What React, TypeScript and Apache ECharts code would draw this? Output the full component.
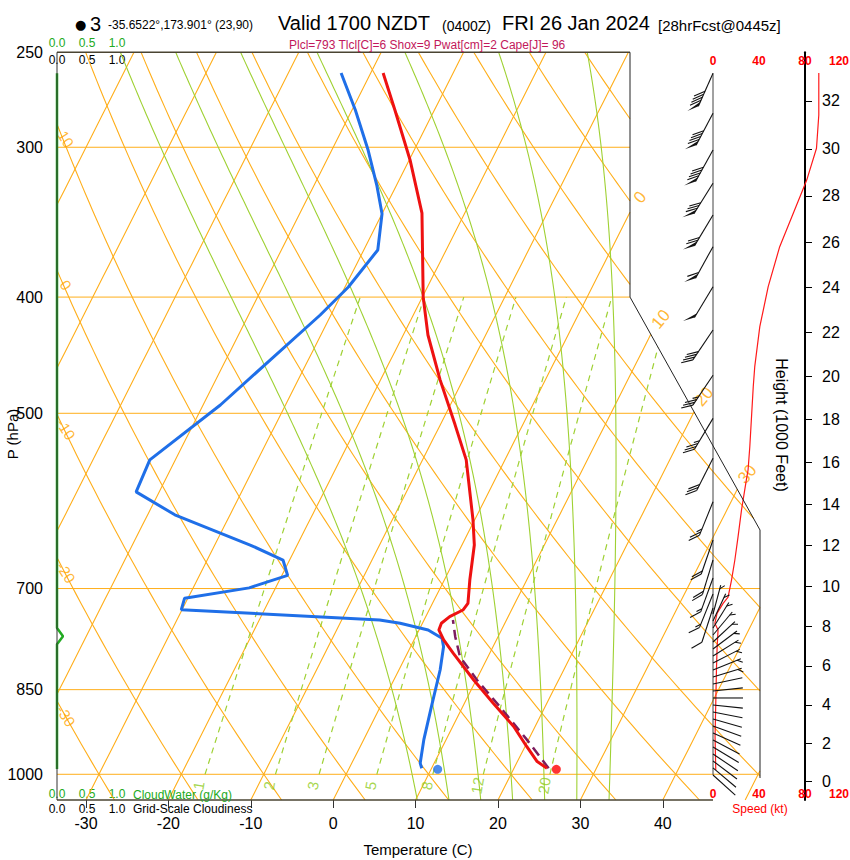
import React, { useEffect, useRef } from "react";
import * as echarts from "echarts";

// ---------------- DATA ----------------
// Temperature profile
const tempP = [260.1, 279.3, 307.4, 340.4, 400, 430.2, 468.7, 511.2, 546.8, 613.6, 643.9, 688.7, 720.2, 729.5, 738.8, 748.3, 757.9, 772.7, 792.9, 834.4, 872.6, 912.3, 948, 975.9, 988.5];
const tempC = [-38.5, -34.8, -29.9, -25.2, -19.9, -17.0, -12.8, -8.2, -4.7, -0.2, 1.5, 3.1, 4.3, 4.1, 2.9, 2.3, 2.4, 3.6, 5.6, 9.7, 13.5, 17.4, 20.2, 22.4, 24.0];
// Dew point profile
const dewP = [260.1, 279.3, 301.6, 322.6, 340.9, 365.4, 392.3, 414, 451.2, 492.1, 546.8, 581.4, 607.6, 643.9, 662.7, 682.5, 699.1, 713.1, 729, 743.6, 748.3, 757.9, 770.2, 782.8, 818.1, 878.2, 935.6, 978.9, 988.5];
const dewC = [-43.6, -39.6, -35.6, -32.4, -30.0, -28.3, -29.6, -31.3, -34.6, -37.9, -43.1, -42.8, -36.7, -25.7, -20.8, -19.3, -23.2, -30.4, -30.1, -5.4, -2.7, 1.1, 3.3, 4.0, 5.0, 6.2, 7.3, 8.3, 8.8];
// Lifted parcel
const parcelP = [988.5, 935.6, 878.2, 834.4, 797.9, 767.8, 743.6];
const parcelC = [24.2, 19.8, 14.5, 10.1, 6.6, 4.8, 3.5];
// Surface values
const sfcP = 990.5;
const sfcT = 25.2;
const sfcTd = 10.8;
// Wind speed profile (kt)
const speedP = [260.1, 282.0, 300.6, 319.5, 325.6, 363.1, 392.1, 423.4, 457.2, 475.1, 533.1, 557.5, 568.2, 601.8, 633.6, 662.7, 688.7, 711.7, 720.2, 733.9, 748.3, 757.9, 782.8, 818.1, 872.6, 930.3, 991.8];
const speedKt = [92, 92, 90, 81.5, 78, 58, 48, 40.7, 36.3, 35, 32, 30.5, 29, 24.8, 21.8, 19, 16.1, 13.1, 8.8, 3.6, 1.6, 4.4, 3.6, 3.0, 2.4, 1.8, 2.4];
// Wind barbs: pressure (hPa), direction (deg), speed (kt)
const barbP = [260.3, 281.1, 301.6, 321.5, 341.7, 363.1, 392.1, 426.1, 464.8, 504.9, 545.2, 592.6, 637.7, 662.7, 686.0, 707.4, 726.7,
  735.1, 745.0, 755.1, 765.3, 775.7, 786.2, 796.8, 807.6, 818.5, 829.6, 840.8, 852.2, 863.7, 875.4, 887.2, 899.2, 911.4, 923.7, 936.2, 948.9, 961.7, 974.7, 987.9, 1001.3];
const barbDir = [204, 208, 209, 212, 211, 209, 211, 214, 214, 211, 207, 202, 199, 197, 200, 202, 198,
  15, 25, 32, 40, 47, 53, 58, 63, 68, 73, 78, 84, 90, 96, 101, 106, 110, 114, 118, 121, 124, 127, 130, 132];
const barbKt = [90, 90, 90, 80, 70, 60, 50, 40, 35, 35, 30, 25, 20, 20, 15, 15, 10,
  5, 5, 3, 3, 3, 3, 3, 3, 3, 3, 2, 2, 2, 2, 2, 2, 2, 2, 2, 2, 2, 2, 2, 2];
// Cloud water (g/kg)
const cloudP = [260.3, 755, 767, 779, 990];
const cloudW = [0, 0, 0.1, 0, 0];

// Axis ticks / background line sets
const tempTicks = [-30, -20, -10, 0, 10, 20, 30, 40];
const pressureTicks = [250, 300, 400, 500, 700, 850, 1000];
const isobarLevels = [300, 400, 500, 700, 850, 1000];
const heightTicks = [0, 2, 4, 6, 8, 10, 12, 14, 16, 18, 20, 22, 24, 26, 28, 30, 32];
const speedTicks = [0, 40, 80];
const speedEdgeTick = 120;
const cloudTicks = [0, 0.5, 1];
const isothermValues = [-80, -70, -60, -50, -40, -30, -20, -10, 0, 10, 20, 30, 40, 50];
const dryAdiabatValues = [-30, -20, -10, 0, 10, 20, 30, 40, 50, 60, 70, 80, 90, 100, 110, 120, 130];
const moistAdiabatValues = [8, 12, 16, 20, 24, 28, 32];
const mixingRatioValues = [1, 2, 3, 5, 8, 12, 20];
const dryLabelValues = [10, 0, -10, -20, -30];
const isoLabelValues = [0, 10, 20, 30];

// ---------------- LAYOUT ----------------
const FONT = '"Liberation Sans", Arial, Helvetica, sans-serif';
const GL = 57, GR = 760, GT = 52.3, GB = 800;
const SPEED_LEFT = 713, SPEED_W = 137, PX_PER_KT = 1.15;
const FRAME_X_TOP = 630, DIAG_END_Y = 530;
const P_TOP = 250, P_BOT = 1050.6;
const LN_TOP = Math.log(P_TOP), LN_BOT = Math.log(P_BOT);
const T0_PIX = 333.2, PX_PER_C = 8.24;
const XMIN = (GL - T0_PIX) / PX_PER_C, XMAX = (GR - T0_PIX) / PX_PER_C;
const PX_PER_LN = (GB - GT) / (LN_BOT - LN_TOP);
const SKEW = (0.505 * PX_PER_LN) / PX_PER_C;
const pixToLn = (y: number) => LN_TOP + (y - GT) / PX_PER_LN;
const X_FRAME = (FRAME_X_TOP - T0_PIX) / PX_PER_C;
const LN_DIAG0 = Math.log(400);
const LN_DIAG1 = pixToLn(DIAG_END_Y);

const ORANGE = "#ffae1a";
const LGREEN = "#9fd133";

// ---------------- thermodynamics ----------------
const RD = 287.04, CPD = 1005.7, LV = 2.501e6, EPS = 0.622;
const toX = (tc: number, lp: number) => tc + SKEW * (LN_BOT - lp);
const esat = (tc: number) => 6.112 * Math.exp((17.67 * tc) / (tc + 243.5));
const rsat = (tk: number, p: number) => { const e = esat(tk - 273.15); return (EPS * e) / (p - e); };
const dryT = (th: number, lp: number) => (th + 273.15) * Math.pow(Math.exp(lp) / 1000, 0.2857) - 273.15;
const mixTd = (w: number, p: number) => {
  const r = w / 1000; const e = (p * r) / (EPS + r); const L = Math.log(e / 6.112);
  return (243.5 * L) / (17.67 - L);
};
const rightLimit = (lp: number) => {
  if (lp <= LN_DIAG0) return X_FRAME;
  if (lp >= LN_DIAG1) return XMAX;
  return X_FRAME + ((lp - LN_DIAG0) / (LN_DIAG1 - LN_DIAG0)) * (XMAX - X_FRAME);
};
const insideG = (pt: number[]) => Math.min(pt[0] - XMIN, rightLimit(pt[1]) - pt[0]);
function clip(pts: number[][]): number[][][] {
  const out: number[][][] = [];
  let cur: number[][] = [];
  for (let i = 0; i < pts.length; i++) {
    const g = insideG(pts[i]);
    if (i > 0) {
      const A = pts[i - 1], B = pts[i];
      const gp = insideG(A);
      if ((gp >= 0) !== (g >= 0)) {
        let a = 0, b = 1;
        for (let k = 0; k < 40; k++) {
          const m = (a + b) / 2;
          const pm = [A[0] + (B[0] - A[0]) * m, A[1] + (B[1] - A[1]) * m];
          if ((insideG(pm) >= 0) === (gp >= 0)) a = m; else b = m;
        }
        const t = (a + b) / 2;
        cur.push([A[0] + (B[0] - A[0]) * t, A[1] + (B[1] - A[1]) * t]);
        if (g < 0) { if (cur.length > 1) out.push(cur); cur = []; }
      }
    }
    if (g >= 0) cur.push(pts[i]);
  }
  if (cur.length > 1) out.push(cur);
  return out;
}
const sampleLn = (lp0: number, lp1: number, n: number) => {
  const a: number[] = [];
  for (let i = 0; i <= n; i++) a.push(lp0 + ((lp1 - lp0) * i) / n);
  return a;
};
function moistLine(thw: number): number[][] {
  const f = (T: number, lp: number) => {
    const p = Math.exp(lp); const r = rsat(T, p);
    return (RD * T + LV * r) / (CPD + (LV * LV * r * EPS) / (RD * T * T));
  };
  const integ = (lp0: number, T0: number, lp1: number, n: number) => {
    const h = (lp1 - lp0) / n; const out = [[lp0, T0]]; let T = T0, lp = lp0;
    for (let i = 0; i < n; i++) {
      const k1 = f(T, lp), k2 = f(T + (h * k1) / 2, lp + h / 2), k3 = f(T + (h * k2) / 2, lp + h / 2), k4 = f(T + h * k3, lp + h);
      T += (h * (k1 + 2 * k2 + 2 * k3 + k4)) / 6; lp += h; out.push([lp, T]);
    }
    return out;
  };
  const up = integ(Math.log(1000), thw + 273.15, LN_TOP, 140);
  const down = integ(Math.log(1000), thw + 273.15, LN_BOT, 6).reverse();
  return [...down, ...up.slice(1)].map(([lp, T]) => [toX(T - 273.15, lp), lp]);
}
function bisect(fn: (x: number) => number, a: number, b: number) {
  let fa = fn(a);
  for (let i = 0; i < 60; i++) {
    const m = (a + b) / 2; const fm = fn(m);
    if ((fm >= 0) === (fa >= 0)) { a = m; fa = fm; } else b = m;
  }
  return (a + b) / 2;
}
const heightToLnP = (kft: number) => Math.log(1013.25 * Math.pow(1 - (kft * 304.8) / 44330.8, 5.25588));
const lnPToKft = (lp: number) => (44330.8 * (1 - Math.pow(Math.exp(lp) / 1013.25, 0.190263))) / 304.8;

function buildOption(): any {
  const isoLines = isothermValues.flatMap((t) => clip(sampleLn(LN_BOT, LN_TOP, 60).map((lp) => [toX(t, lp), lp])));
  const dryLines = dryAdiabatValues.flatMap((th) => clip(sampleLn(LN_BOT, LN_TOP, 80).map((lp) => [toX(dryT(th, lp), lp), lp])));
  const moistLines = moistAdiabatValues.flatMap((tw) => clip(moistLine(tw)));
  const mixLines = mixingRatioValues.flatMap((w) => clip(sampleLn(Math.log(1000), Math.log(400), 60).map((lp) => [toX(mixTd(w, Math.exp(lp)), lp), lp])));
  const isobarLines = isobarLevels.map((p) => { const lp = Math.log(p); return [[XMIN, lp], [rightLimit(lp), lp]]; });

  const offs = (pt: number[], dx: number, dy: number) => [pt[0] + dx / PX_PER_C, pt[1] + dy / PX_PER_LN];
  const isoLab = isoLabelValues.map((t) => {
    const lp = bisect((l) => toX(t, l) - rightLimit(l), LN_TOP, LN_BOT);
    return { name: String(t), value: offs([toX(t, lp), lp], 10, -15) };
  });
  const dryLab = dryLabelValues.map((th) => {
    const lp = bisect((l) => toX(dryT(th, l), l) - XMIN, LN_TOP, LN_BOT);
    return { name: String(th), value: offs([XMIN, lp], 9, 15) };
  });
  const mixLab = mixingRatioValues.map((w) => {
    const lp = Math.log(1022);
    return { name: String(w), value: offs([toX(mixTd(w, 1022), lp), lp], -3, 0) };
  });

  const bgLines = (data: number[][][], color: string, width: number, type: any, z: number) => ({
    type: "lines", coordinateSystem: "cartesian2d", xAxisIndex: 0, yAxisIndex: 0, polyline: true, silent: true, z,
    data: data.map((c) => ({ coords: c })),
    lineStyle: { color, width, type, opacity: 1 },
  });
  const labelSeries = (data: any[], color: string, size: number, rotate: number) => ({
    type: "scatter", xAxisIndex: 0, yAxisIndex: 0, symbol: "circle", symbolSize: 1, silent: true, z: 3,
    itemStyle: { color: "transparent" },
    data,
    label: { show: true, position: "inside", formatter: "{b}", color, fontSize: size, fontFamily: FONT, rotate },
  });
  const profile = (ps: number[], ts: number[]) => ps.map((p, i) => [toX(ts[i], Math.log(p)), Math.log(p)]);

  const hideAxis = { axisLine: { show: false, onZero: false }, axisTick: { show: false }, splitLine: { show: false } };
  const yHidden = (g: number) => ({ gridIndex: g, type: "value", min: LN_TOP, max: LN_BOT, inverse: true, show: false, ...hideAxis });
  const cloudAxis = (g: number, pos: string, inside: boolean, color: string, margin: number) => ({
    gridIndex: g, type: "value", min: 0, max: 1, position: pos, ...hideAxis,
    axisLabel: { show: true, inside, customValues: cloudTicks, formatter: (v: number) => v.toFixed(1), color, fontSize: 12, fontFamily: FONT, margin },
  });
  const speedAxis = (pos: string, margin: number) => ({
    gridIndex: 1, type: "value", min: 0, max: SPEED_W / PX_PER_KT, position: pos, ...hideAxis,
    axisLabel: { show: true, inside: true, customValues: speedTicks, color: "#ff0000", fontWeight: "bold", fontSize: 12, fontFamily: FONT, margin },
  });

  const txt = (x: number, y: number, text: string, size: number, extra: any = {}, rotation = 0) => ({
    type: "text", x, y, rotation, z: 20,
    style: { text, fontSize: size, fontFamily: FONT, fill: "#000", align: "left", verticalAlign: "middle", ...extra },
  });
  const frameColor = "#4a4432";

  return {
    animation: false,
    backgroundColor: "#ffffff",
    textStyle: { fontFamily: FONT },
    grid: [
      { left: GL, top: GT, width: GR - GL, height: GB - GT },
      { left: SPEED_LEFT, top: GT, width: SPEED_W, height: GB - GT },
      { left: GL, top: GT, width: 60, height: GB - GT },
      { left: GL, top: GT, width: 60, height: GB - GT },
    ],
    xAxis: [
      {
        gridIndex: 0, type: "value", min: XMIN, max: XMAX, position: "bottom",
        axisLine: { show: false, onZero: false }, splitLine: { show: false },
        axisTick: { show: true, customValues: tempTicks, length: 8, lineStyle: { color: "#333", width: 1 } },
        axisLabel: { show: true, customValues: tempTicks, formatter: (v: number) => String(Math.round(v)), fontSize: 16, color: "#000", fontFamily: FONT, margin: 15 },
      },
      speedAxis("top", 3),
      speedAxis("bottom", 0),
      cloudAxis(2, "top", false, "#22aa22", 3),
      cloudAxis(2, "bottom", true, "#22aa22", 0),
      cloudAxis(3, "top", true, "#000", 2),
      cloudAxis(3, "bottom", false, "#000", 3),
    ],
    yAxis: [
      {
        gridIndex: 0, type: "value", min: LN_TOP, max: LN_BOT, inverse: true, position: "left", ...hideAxis,
        axisLabel: { show: true, customValues: pressureTicks.map(Math.log), formatter: (v: number) => String(Math.round(Math.exp(v))), fontSize: 16, color: "#000", fontFamily: FONT, margin: 14 },
      },
      {
        gridIndex: 0, type: "value", min: LN_TOP, max: LN_BOT, inverse: true, position: "right", offset: 45,
        axisLine: { show: true, onZero: false, lineStyle: { color: "#000", width: 2 } },
        axisTick: { show: true, inside: false, customValues: heightTicks.map(heightToLnP), length: 7, lineStyle: { color: "#000", width: 1 } },
        axisLabel: { show: true, customValues: heightTicks.map(heightToLnP), formatter: (v: number) => String(Math.round(lnPToKft(v))), fontSize: 16, color: "#000", fontFamily: FONT, margin: 17 },
        splitLine: { show: false },
      },
      yHidden(1),
      yHidden(2),
      yHidden(3),
    ],
    series: [
      bgLines(isobarLines, ORANGE, 1, "solid", 1),
      bgLines(isoLines, ORANGE, 1.1, "solid", 1),
      bgLines(dryLines, ORANGE, 1.1, "solid", 1),
      bgLines(moistLines, LGREEN, 1.1, "solid", 1),
      bgLines(mixLines, LGREEN, 1.2, [6, 5], 1),
      labelSeries(isoLab, "#ffa500", 17, 50),
      labelSeries(dryLab, "#ffa500", 15, -58),
      labelSeries(mixLab, "#8fcc22", 15, 80),
      {
        type: "line", xAxisIndex: 0, yAxisIndex: 0, data: profile(parcelP, parcelC), symbol: "none", silent: true, z: 5,
        lineStyle: { color: "#7b1c5e", width: 2.5, type: [10, 6] },
      },
      {
        type: "line", xAxisIndex: 0, yAxisIndex: 0, data: profile(dewP, dewC), symbol: "none", silent: true, z: 6,
        lineStyle: { color: "#1f6fe8", width: 3 },
      },
      {
        type: "line", xAxisIndex: 0, yAxisIndex: 0, data: profile(tempP, tempC), symbol: "none", silent: true, z: 6,
        lineStyle: { color: "#ee1111", width: 3 },
      },
      {
        type: "scatter", xAxisIndex: 0, yAxisIndex: 0, symbolSize: 9, silent: true, z: 7,
        data: [
          { value: [toX(sfcT, Math.log(sfcP)), Math.log(sfcP)], itemStyle: { color: "#ff0000" } },
          { value: [toX(sfcTd, Math.log(sfcP)), Math.log(sfcP)], itemStyle: { color: "#1f6fe8" } },
        ],
      },
      {
        type: "line", xAxisIndex: 3, yAxisIndex: 3, data: cloudP.map((p, i) => [cloudW[i], Math.log(p)]), symbol: "none", silent: true, z: 8,
        lineStyle: { color: "#22aa22", width: 2.5 },
      },
      {
        type: "line", xAxisIndex: 1, yAxisIndex: 2,
        data: [[0, Math.log(barbP[0])], [0, Math.log(barbP[barbP.length - 1])]],
        symbol: "none", silent: true, z: 6, lineStyle: { color: "#444", width: 1 },
      },
      {
        type: "line", xAxisIndex: 1, yAxisIndex: 2, data: speedP.map((p, i) => [speedKt[i], Math.log(p)]), symbol: "none", silent: true, z: 7,
        lineStyle: { color: "#ff1a1a", width: 1.2 },
      },
      {
        type: "custom", coordinateSystem: "cartesian2d", xAxisIndex: 1, yAxisIndex: 2, silent: true, z: 9, clip: false,
        dimensions: ["x", "y", "dir", "spd"],
        encode: { x: 0, y: 1 },
        data: barbP.map((p, i) => [0, Math.log(p), barbDir[i], barbKt[i]]),
        renderItem: (params: any, api: any) => {
          const pt = api.coord([api.value(0), api.value(1)]);
          const dir = (api.value(2) * Math.PI) / 180;
          const spd = api.value(3);
          const L = spd >= 10 ? 36 : 30;
          const ux = Math.sin(dir), uy = -Math.cos(dir);
          const px = -uy, py = ux;
          const ang = (42 * Math.PI) / 180;
          const fx = ux * Math.cos(ang) + px * Math.sin(ang);
          const fy = uy * Math.cos(ang) + py * Math.sin(ang);
          const FL = 12;
          const at = (d: number) => [pt[0] + ux * d, pt[1] + uy * d];
          const children: any[] = [];
          const ln = (a: number[], b: number[]) => ({ type: "line", shape: { x1: a[0], y1: a[1], x2: b[0], y2: b[1] }, style: { stroke: "#111", lineWidth: 1.1 } });
          children.push(ln(pt, at(L)));
          let s = Math.round(spd / 5) * 5;
          const pen = Math.floor(s / 50); s -= pen * 50;
          const full = Math.floor(s / 10); s -= full * 10;
          const half = s >= 5;
          let d = L;
          for (let k = 0; k < pen; k++) {
            const a = at(d), b = at(d - 5);
            children.push({ type: "polygon", shape: { points: [a, [a[0] + fx * FL, a[1] + fy * FL], b] }, style: { fill: "#111" } });
            d -= 6.5;
          }
          for (let k = 0; k < full; k++) {
            const a = at(d);
            children.push(ln(a, [a[0] + fx * FL, a[1] + fy * FL]));
            d -= 3.3;
          }
          if (half) {
            if (pen + full === 0) d = L - 4;
            const a = at(d);
            children.push(ln(a, [a[0] + (fx * FL) / 2, a[1] + (fy * FL) / 2]));
          }
          return { type: "group", children };
        },
      },
    ],
    graphic: {
      elements: [
        { type: "polyline", z: 15, shape: { points: [[GL, GT], [FRAME_X_TOP, GT]] }, style: { stroke: frameColor, lineWidth: 1.5, fill: null } },
        { type: "polyline", z: 15, shape: { points: [[GL, GB], [SPEED_LEFT, GB]] }, style: { stroke: frameColor, lineWidth: 1.5, fill: null } },
        { type: "polyline", z: 15, shape: { points: [[GL, GT], [GL, GB]] }, style: { stroke: "#333", lineWidth: 1, fill: null } },
        { type: "polyline", z: 15, shape: { points: [[FRAME_X_TOP, GT], [FRAME_X_TOP, GT + (LN_DIAG0 - LN_TOP) * PX_PER_LN], [GR, DIAG_END_Y], [GR, 778]] }, style: { stroke: "#222", lineWidth: 1, fill: null } },
        txt(75, 24, "●", 13, { fontFamily: '"DejaVu Sans", sans-serif' }),
        txt(90, 23.5, "3", 20),
        txt(108, 24.5, "-35.6522°,173.901° (23,90)", 12),
        txt(278, 23, "Valid 1700 NZDT", 20),
        txt(442, 25.5, "(0400Z)", 14),
        txt(502, 23, "FRI 26 Jan 2024", 20),
        txt(658, 25, "[28hrFcst@0445z]", 15),
        txt(289, 45, "Plcl=793 Tlcl[C]=6 Shox=9 Pwat[cm]=2 Cape[J]= 96", 12, { fill: "#c2185b" }),
        txt(133, 795, "CloudWater (g/Kg)", 12, { fill: "#22aa22" }),
        txt(133, 809, "Grid-Scale Cloudiness", 12),
        txt(760, 809, "Speed (kt)", 12, { fill: "#ff0000", align: "center" }),
        txt(849, 61, String(speedEdgeTick), 12, { fill: "#ff0000", fontWeight: "bold", align: "right" }),
        txt(849, 794, String(speedEdgeTick), 12, { fill: "#ff0000", fontWeight: "bold", align: "right" }),
        txt(418, 849, "Temperature (C)", 15, { align: "center" }),
        txt(12, 434, "P (hPa)", 15, { align: "center" }, Math.PI / 2),
        txt(781, 425, "Height (1000 Feet)", 16, { align: "center" }, -Math.PI / 2),
      ],
    },
  };
}

export default function App() {
  const ref = useRef<HTMLDivElement>(null);
  useEffect(() => {
    document.body.style.margin = "0";
    const chart = echarts.init(ref.current as HTMLDivElement, null, { renderer: "svg" });
    chart.setOption(buildOption());
    return () => chart.dispose();
  }, []);
  return <div ref={ref} style={{ width: 850, height: 860 }} />;
}
